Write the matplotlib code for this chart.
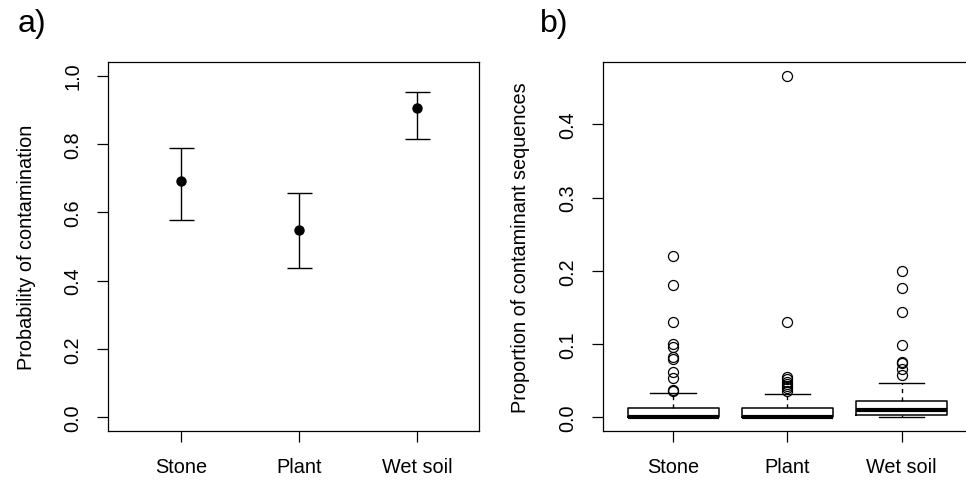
import matplotlib
matplotlib.use("Agg")
import matplotlib.pyplot as plt

plt.rcParams['font.family'] = ['Liberation Sans', 'DejaVu Sans']

# ---- data ----
categories = ["Stone", "Plant", "Wet soil"]

# panel a: probability of contamination with confidence intervals
prob_mean = [0.692, 0.549, 0.905]
prob_lower = [0.577, 0.438, 0.814]
prob_upper = [0.787, 0.656, 0.952]

# panel b: boxplot summary of proportion of contaminant sequences
box_q1 = [0.0, 0.0, 0.0032]
box_median = [0.001, 0.0005, 0.0105]
box_q3 = [0.0132, 0.0123, 0.0227]
box_whislo = [0.0, 0.0, 0.0]
box_whishi = [0.0336, 0.0318, 0.0468]
fliers_stone = [0.2203, 0.1803, 0.1298, 0.0999, 0.0963, 0.0822, 0.0790,
                0.0622, 0.0541, 0.0377, 0.0364]
fliers_plant = [0.4664, 0.1298, 0.0554, 0.0518, 0.0486, 0.0454, 0.0427,
                0.0395, 0.0364]
fliers_wetsoil = [0.1993, 0.1767, 0.1444, 0.0981, 0.0759, 0.0736, 0.0658,
                  0.0576]

W, H = 966, 481
fig = plt.figure(figsize=(W / 100, H / 100), dpi=100)

def px_axes(l, r, t, b):
    return fig.add_axes([l / W, (H - b) / H, (r - l) / W, (b - t) / H])

fs = 14.3
tick_kw = dict(length=8, width=0.9, pad=10.5, labelsize=fs, direction='out')

# ---------- panel a ----------
ax1 = px_axes(108, 479, 63, 432)
x = [1, 2, 3]
yerr = [[m - lo for m, lo in zip(prob_mean, prob_lower)],
        [hi - m for m, hi in zip(prob_mean, prob_upper)]]
ax1.errorbar(x, prob_mean, yerr=yerr, fmt='o', color='black', ms=6.5,
             elinewidth=1.0, capsize=9, capthick=1.0)
ax1.set_xlim(0.379, 3.523)
ax1.set_ylim(-0.04, 1.04)
ax1.set_xticks(x)
ax1.set_xticklabels(categories)
ax1.set_yticks([0.0, 0.2, 0.4, 0.6, 0.8, 1.0])
ax1.set_yticklabels(["0.0", "0.2", "0.4", "0.6", "0.8", "1.0"],
                    rotation=90, va='center')
ax1.tick_params(axis='both', **tick_kw)
ax1.set_ylabel("Probability of contamination", fontsize=fs)
ax1.yaxis.set_label_coords(-0.195, 0.5)
for s in ax1.spines.values():
    s.set_linewidth(0.9)

# ---------- panel b ----------
ax2 = px_axes(602.7, 972, 63, 432)
fliers = [fliers_stone, fliers_plant, fliers_wetsoil]
stats = []
for i, c in enumerate(categories):
    stats.append(dict(label=c, q1=box_q1[i], med=box_median[i], q3=box_q3[i],
                      whislo=box_whislo[i], whishi=box_whishi[i],
                      fliers=fliers[i]))
ax2.bxp(stats, positions=[1, 2, 3], widths=0.8, showfliers=True,
        boxprops=dict(color='black', linewidth=1.1),
        medianprops=dict(color='black', linewidth=3.0, solid_capstyle='butt'),
        whiskerprops=dict(color='black', linewidth=1.0, linestyle=(0, (3, 3))),
        capprops=dict(color='black', linewidth=1.0),
        capwidths=0.4,
        flierprops=dict(marker='o', markerfacecolor='none',
                        markeredgecolor='black', markersize=7.2,
                        markeredgewidth=0.9))
ax2.set_xlim(0.382, 3.616)
ax2.set_ylim(-0.0187, 0.4851)
ax2.set_xticks([1, 2, 3])
ax2.set_xticklabels(categories)
ax2.set_yticks([0.0, 0.1, 0.2, 0.3, 0.4])
ax2.set_yticklabels(["0.0", "0.1", "0.2", "0.3", "0.4"],
                    rotation=90, va='center')
ax2.tick_params(axis='both', **tick_kw)
ax2.set_ylabel("Proportion of contaminant sequences", fontsize=fs)
ax2.yaxis.set_label_coords(-0.195 * 371 / 369.3, 0.5)
for s in ax2.spines.values():
    s.set_linewidth(0.9)

# panel letters
fig.text(18 / W, 1 - 24 / H, "a)", fontsize=23, va='center', ha='left')
fig.text(540 / W, 1 - 24 / H, "b)", fontsize=23, va='center', ha='left')

fig.savefig("out.png", dpi=100)
